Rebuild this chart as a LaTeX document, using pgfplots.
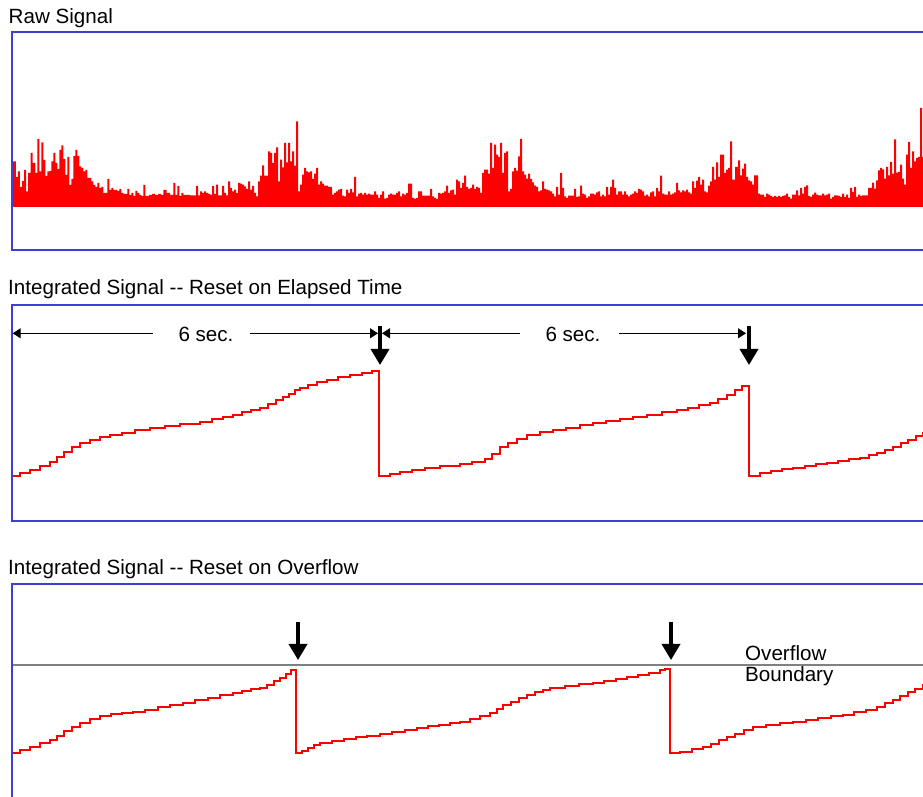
\documentclass[border=0pt]{standalone}
\usepackage{fontspec}
\setmainfont{Liberation Sans}
\usepackage{pgfplots}
\pgfplotsset{compat=1.18}
\usetikzlibrary{arrows.meta}

\definecolor{frameblue}{RGB}{62,62,215}
\definecolor{sigred}{RGB}{255,0,0}
\definecolor{boundgray}{RGB}{128,128,128}
\newcommand{\lbl}{\fontsize{20.6}{24}\selectfont}

\pgfplotsset{
  panel/.style={
    scale only axis, width=928pt,
    xmin=12, xmax=940,
    xtick=\empty, ytick=\empty,
    axis line style={draw=frameblue, line width=2.5pt},
    axis on top, clip=false,
  },
}
\tikzset{
  bigarrow/.style={-{Triangle[length=16pt,width=18pt]}, line width=3.5pt, black},
  dimarrow/.style={-{Triangle[length=8pt,width=10pt]}, line width=1pt, black},
}

\begin{document}
\begin{tikzpicture}[x=1pt,y=1pt]
\useasboundingbox (0,0) rectangle (923,797);
\clip (0,0) rectangle (923,797);

% titles
\node[anchor=base west, inner sep=0, font=\lbl] at (8.5,773) {Raw Signal};
\node[anchor=base west, inner sep=0, font=\lbl] at (8,502) {Integrated Signal -{}- Reset on Elapsed Time};
\node[anchor=base west, inner sep=0, font=\lbl] at (8,222) {Integrated Signal -{}- Reset on Overflow};

% ---- raw detector signal ----
\begin{axis}[panel, at={(12,547)}, anchor=south west, height=218pt, ymin=-43, ymax=175]
\addplot[const plot, fill=sigred, draw=none] coordinates {
(12,45.7)(16,30)(18,35.7)(20,20)(22,26)(24,37)(26,15.7)(28,34)(30.7,54)(32.7,44)(35.3,34)(37.3,68)(39.3,35.7)(41.3,64.7)(43.3,47)(45.3,31)(47.3,35.7)(49.3,36)(51.3,45.7)(53.3,54)(55.3,44)(57.3,38)(59.3,57)(61.3,61.7)(63.3,48)(65.3,32)(67.3,50)(69.3,22)(71.3,28)(73.3,51)(75.3,57)(77.3,51)(79.3,40.7)(81.3,39)(83.3,35.7)(85.3,37)(87.3,29)(91.3,25.7)(93.3,22)(95.3,20)(97.3,24)(99.3,19)(101.3,20)(103.3,14)(107.3,28)(109.3,17)(111.3,19)(113.3,17)(117.3,16)(119.3,18)(121.3,14)(123.3,13)(127.3,18)(129.3,12)(131.3,14)(133.3,11)(135.3,16)(137.3,14)(139.3,12)(141.3,11)(143.3,22)(145.3,11)(149,12)(152,13)(155,12)(158,13)(161,12)(163.3,17)(166.7,14)(170,12)(173.3,24)(175.3,12)(177.3,21)(179.3,11)(181.3,14)(183.3,12)
(190,11.7)(196,21)(198,11.7)(200,15.7)(202,14)(204,15.7)(206,14)(208,13)(210,12.3)(212,21)(214,13)(216,22.3)(218,11.7)(222,21)(224,14)(226,11.7)(228,25.7)(230,19)(232,15.7)(234,17.3)(236,14)(238,24)(240,23.3)(242,22.3)(244,20.7)(246,18)(248,25.7)(250,17.3)(252,21)(254,14)(256,10.7)(258,25.7)(260,31.3)(262,41.7)(264,31.3)(268,55.7)(270,54)(272,44)(274,54)(276,59.7)(278,25.7)(280,47.3)(282,39.7)(284,64)(286,44.7)(288,64)(290,45.7)(292,55.7)(294,41.3)(296,85.7)(298,15.7)(300,22.3)(302,32.3)(304,39)(306,35.7)(308,34.7)(310,35.7)(312,28)(314,33.3)(316,39)(318,22.3)(320,25.7)(322,23.3)(324,21.3)(328,20)(332,12.3)(334,14)(336,15.7)(338,17.3)(340,18)(342,11.3)(344,10.7)(346,17.3)(348,14)(350,18)(352,14.7)(354,30)(356,10.7)(358,13.3)(360,14)(362,12.3)(364,14)(366,12.3)(368,13.3)
(370,12.3)(374,15.7)(376,12.3)(378,9)(380,12.3)(382,15.7)(384,8.3)(386,9)(388,12.3)(390,13.3)(392,12.3)(396,14)(398,15.7)(400,10.7)(402,13.3)(404,12.3)(406,14)(408,23.3)(412,9)(414,8.3)(416,9)(418,15.7)(422,11.3)(430,18)(432,10.7)(434,9)(436,8)(438,14)(440,13.3)(442,14)(444,15.7)(446,21.3)(448,14)(450,16.7)(452,17.3)(454,12.3)(456,27.3)(458,25.7)(460,19)(462,24)(464,31.3)(466,20)(468,18)(470,19)(472,22.3)(474,18)(476,20)(478,19)(480,14)(482,34)(484,37.3)(488,33.3)(490,64)(492,39)(494,62.3)(496,52.3)(498,50)(500,64)(502,34)(504,54)(506,55.7)(508,15.7)(510,18)(512,35.7)(514,39)(516,36.3)(518,50.7)(520,68)(522,35.7)(524,32.3)(526,28.3)(528,33.3)(530,28)(532,24.7)(534,21.3)(536,20)(538,15.7)(540,16.7)(542,25.7)(544,18)(546,17.3)(548,16.7)
(550,15.7)(552,13.3)(554,10.7)(556,20)(558,12.3)(560,34)(562,19)(564,10.7)(566,9)(568,11.3)(574,18)(576,10)(578,10.7)(580,21.3)(582,13.3)(584,12.3)(586,9)(588,10.7)(590,13.3)(594,12.3)(596,14.7)(598,15.7)(600,10.7)(602,12.3)(604,10.7)(606,20)(608,12.3)(610,20)(612,27.3)(614,19)(616,12.3)(618,15.7)(622,12.3)(624,15.7)(626,12.3)(628,10.7)(630,12.3)(632,13.3)(634,15.7)(636,14)(638,18)(640,17.3)(642,15.7)(644,11.3)(646,12.3)(648,10.7)(650,14.7)(652,15.7)(654,10.7)(656,19)(658,15.7)(660,31.3)(662,13.3)(664,12.3)(668,15.7)(670,12.3)(672,13.3)(674,14.7)(676,24)(678,16.7)(680,14.7)(682,16.7)(684,15.7)(686,17.3)(688,14.7)(690,13.3)(692,25.7)(694,19)(696,26.3)(698,30)(700,22.3)(702,27.3)(704,15.7)(706,14.7)(708,21.3)(710,25.7)(712,40)(714,27.3)(716,44.7)(718,30)(720,52.3)(724,34)(726,37.3)(728,39)(730,65.7)(732,27.3)(735,40)
(738,46.7)(740,31.7)(742,38.3)(744,43.3)(746,30)(748,26.7)(750,25.7)(752,22.3)(754,31.7)(758,13.3)(760,12.3)(764,10)(766,13.3)(768,12.3)(770,11)(772,10)(774,11)(776,10)(778,11)(780,10)(782,11)(784,11.7)(786,13.3)(788,10)(790,8.3)(792,12.3)(796,16.7)(798,11.7)(800,19)(802,13.3)(804,20)(806,21.7)(808,11)(810,10)(812,12.3)(814,14.3)(816,12.3)(818,11.7)(822,13.3)(824,11.7)(826,12.3)(828,13.3)(830,8.3)(832,10)(834,11.7)(838,11)(840,10)(842,13.3)(844,10)(846,12.3)(848,9)(850,19)(852,15)(854,20)(856,10)(858,12.3)(860,11)(862,11.7)(868,19)(872,24.3)(874,18.3)(876,26.7)(878,36.7)(880,39)(882,37.7)(884,28.3)(886,40)(888,31.7)(890,45)(892,33.3)(894,67.7)(896,34.3)(898,35)(900,42.3)(902,28.3)(904,22.3)(906,52.3)(908,65)(910,39)(912,55.7)(914,45.7)(916,49)(918,50)(920,99)(922,50)(926,45)(940,45)
} \closedcycle;
\end{axis}

% ---- integrated signal, reset every 6 s ----
\begin{axis}[panel, at={(12,276)}, anchor=south west, height=216pt, ymin=-1, ymax=215]
\addplot[const plot, draw=sigred, line width=2pt] coordinates {
(12,44)(20,47)(30,50)(40,54)(50,58)(57,63)(64,68)(72,73)(80,77)(90,80)(100,83)(110,85)(122,87)(135,89.5)(150,92)(165,94)(180,95.5)(200,98)(212,100.5)(223,103)(233,105)(242,107.5)(251,110)(260,112)(268,116)(276,120)(283,123)(289,126)(295,129.5)(300,132)(308,135)(317,138)(327,140)(338,142.5)(350,145)(362,147)(372,149)
(379,44)(390,46)(400,48)(412,50)(425,52)(440,54)(460,56)(472,58)(485,61)(492,66)(500,73)(508,77)(517,81)(527,85)(540,87.5)(553,90)(566,92)(580,94.5)(593,97)(606,99)(620,101)(633,103)(647,105)(662,107.5)(677,110)(688,112)(699,114.5)(710,117)(718,121)(727,125)(735,129.5)(742,134)
(749,44)(760,47)(771,49)(782,50.5)(793,52)(805,54)(816,55.5)(827,57)(838,59)(849,60.5)(860,62)(869,64.5)(877,67)(885,70)(893,73)(901,77)(908,80)(916,83.5)(923,87)(931,91)(940,95)
};
% interval markers
\draw[dimarrow] (axis cs:153,186.7) -- (axis cs:12.7,186.7);
\draw[dimarrow] (axis cs:250,186.7) -- (axis cs:378,186.7);
\node[anchor=base, inner sep=0, font=\lbl] at (axis cs:206,178) {6 sec.};
\draw[dimarrow] (axis cs:520,186.7) -- (axis cs:382,186.7);
\draw[dimarrow] (axis cs:619,186.7) -- (axis cs:746,186.7);
\node[anchor=base, inner sep=0, font=\lbl] at (axis cs:573,178) {6 sec.};
\draw[bigarrow] (axis cs:380,194) -- (axis cs:380,155);
\draw[bigarrow] (axis cs:749,194) -- (axis cs:749,155);
\end{axis}

% ---- integrated signal, reset at overflow ----
\begin{axis}[panel, at={(12,-13)}, anchor=south west, height=226pt, ymin=-10, ymax=216]
\addplot[draw=boundgray, line width=1.2pt] coordinates {(12,135)(940,135)};
\addplot[const plot, draw=sigred, line width=2pt] coordinates {
(12,47)(20,50)(30,53)(40,56.5)(50,60)(57,64)(64,68.5)(72,73)(80,77)(90,80.5)(100,84)(111,85.5)(122,87)(133,88)(145,90)(158,92.5)(170,94.5)(183,97)(195,99.5)(208,102)(220,104.5)(233,107)(242,109)(251,110.5)(260,112)(267,115)(274,119)(280,122)(286,125.5)(291,130)
(296,47)(302,48.5)(308,51.5)(314,54.5)(320,57)(332,59)(344,60.5)(356,62.5)(367,64)(380,66)(392,68)(405,70)(417,72)(428,73.5)(439,75)(450,76.5)(460,78)(470,81)(480,84)(490,87)(497,91)(503,95)(511,98)(519,102)(527,105)(535,107.5)(543,110)(550,112)(565,114)(579,115.5)(593,117)(604,119)(616,121)(627,123)(638,125)(649,127)(660,129.5)(665,131)
(670,47)(680,48)(692,50.5)(703,53)(711,56)(719,60)(727,63)(735,66)(744,69.5)(753,73)(766,75)(780,76.5)(793,78)(806,80)(818,81.5)(831,83.5)(843,85)(854,87.5)(866,90)(877,93)(885,96.5)(893,100)(900,103.5)(908,107.5)(915,111)(923,115)(931,119)(940,123)
};
\draw[bigarrow] (axis cs:298,178) -- (axis cs:298,140);
\draw[bigarrow] (axis cs:671,178) -- (axis cs:671,140);
\node[anchor=base west, inner sep=0, font=\lbl] at (axis cs:745,139) {Overflow};
\node[anchor=base west, inner sep=0, font=\lbl] at (axis cs:745,118) {Boundary};
\end{axis}
\end{tikzpicture}
\end{document}
